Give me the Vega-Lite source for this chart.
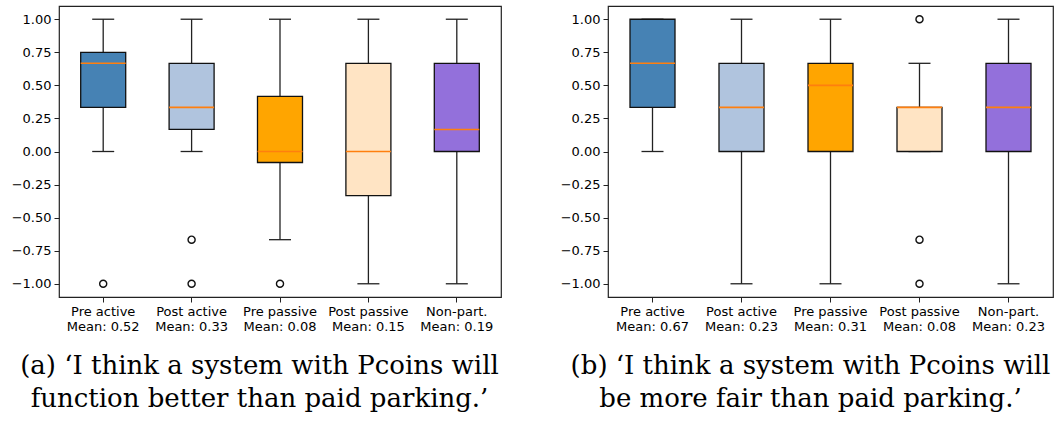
{
  "$schema": "https://vega.github.io/schema/vega-lite/v6.json",
  "padding": {"left": 10, "top": 5, "right": 0, "bottom": 0},
  "autosize": {"type": "pad"},
  "background": "white",
  "config": {
    "view": {"stroke": "#222", "strokeWidth": 1.2},
    "axis": {"labelFont": "DejaVu Sans", "labelFontSize": 13, "labelColor": "#000", "tickColor": "#222", "tickSize": 5, "tickWidth": 1, "domain": false, "grid": false, "labelOverlap": false},
    "concat": {"spacing": 57}
  },
  "datasets": {
    "stats_a": [
      {"group": "Pre active", "label": "Pre active|Mean: 0.52", "lower": 0, "q1": 0.3333, "median": 0.6667, "q3": 0.75, "upper": 1},
      {"group": "Post active", "label": "Post active|Mean: 0.33", "lower": 0, "q1": 0.1667, "median": 0.3333, "q3": 0.6667, "upper": 1},
      {"group": "Pre passive", "label": "Pre passive|Mean: 0.08", "lower": -0.6667, "q1": -0.0833, "median": 0, "q3": 0.4167, "upper": 1},
      {"group": "Post passive", "label": "Post passive|Mean: 0.15", "lower": -1, "q1": -0.3333, "median": 0, "q3": 0.6667, "upper": 1},
      {"group": "Non-part.", "label": "Non-part.|Mean: 0.19", "lower": -1, "q1": 0, "median": 0.1667, "q3": 0.6667, "upper": 1}
    ],
    "out_a": [
      {"label": "Pre active|Mean: 0.52", "value": -1},
      {"label": "Post active|Mean: 0.33", "value": -0.6667},
      {"label": "Post active|Mean: 0.33", "value": -1},
      {"label": "Pre passive|Mean: 0.08", "value": -1}
    ],
    "stats_b": [
      {"group": "Pre active", "label": "Pre active|Mean: 0.67", "lower": 0, "q1": 0.3333, "median": 0.6667, "q3": 1, "upper": 1},
      {"group": "Post active", "label": "Post active|Mean: 0.23", "lower": -1, "q1": 0, "median": 0.3333, "q3": 0.6667, "upper": 1},
      {"group": "Pre passive", "label": "Pre passive|Mean: 0.31", "lower": -1, "q1": 0, "median": 0.5, "q3": 0.6667, "upper": 1},
      {"group": "Post passive", "label": "Post passive|Mean: 0.08", "lower": 0, "q1": 0, "median": 0.3333, "q3": 0.3333, "upper": 0.6667},
      {"group": "Non-part.", "label": "Non-part.|Mean: 0.23", "lower": -1, "q1": 0, "median": 0.3333, "q3": 0.6667, "upper": 1}
    ],
    "out_b": [
      {"label": "Post passive|Mean: 0.08", "value": 1},
      {"label": "Post passive|Mean: 0.08", "value": -0.6667},
      {"label": "Post passive|Mean: 0.08", "value": -1}
    ]
  },
  "hconcat": [
    {
      "width": 442,
      "height": 291,
      "encoding": {
        "x": {"field": "label", "type": "nominal", "sort": null,
          "scale": {"paddingInner": 0, "paddingOuter": 0},
          "axis": {"labelAngle": 0, "labelExpr": "split(datum.value, '|')", "labelLineHeight": 15, "labelPadding": 3,
            "title": ["(a) \u2018I think a system with Pcoins will", "function better than paid parking.\u2019"],
            "titleFont": "DejaVu Serif", "titleFontSize": 26, "titleFontWeight": "normal", "titleColor": "#000",
            "titleLineHeight": 33, "titleX": 200, "titleY": 55, "titleBaseline": "top", "titleAlign": "center", "titleAnchor": null}}
      },
      "layer": [
        {"data": {"name": "stats_a"}, "mark": {"type": "rule", "color": "#222", "strokeWidth": 1.3},
          "encoding": {"y": {"field": "lower", "type": "quantitative", "scale": {"domain": [-1.1, 1.1], "nice": false, "zero": false},
            "axis": {"values": [-1, -0.75, -0.5, -0.25, 0, 0.25, 0.5, 0.75, 1], "format": ".2f", "title": null, "labelPadding": 3, "labelOverlap": false}},
            "y2": {"field": "q1"}}},
        {"data": {"name": "stats_a"}, "mark": {"type": "rule", "color": "#222", "strokeWidth": 1.3},
          "encoding": {"y": {"field": "q3", "type": "quantitative", "axis": {"values": [-1, -0.75, -0.5, -0.25, 0, 0.25, 0.5, 0.75, 1], "format": ".2f", "title": null, "labelPadding": 3, "labelOverlap": false}}, "y2": {"field": "upper"}}},
        {"data": {"name": "stats_a"}, "mark": {"type": "tick", "color": "#222", "size": 22, "thickness": 1.3, "opacity": 1},
          "encoding": {"y": {"field": "lower", "type": "quantitative", "axis": {"values": [-1, -0.75, -0.5, -0.25, 0, 0.25, 0.5, 0.75, 1], "format": ".2f", "title": null, "labelPadding": 3, "labelOverlap": false}}}},
        {"data": {"name": "stats_a"}, "mark": {"type": "tick", "color": "#222", "size": 22, "thickness": 1.3, "opacity": 1},
          "encoding": {"y": {"field": "upper", "type": "quantitative", "axis": {"values": [-1, -0.75, -0.5, -0.25, 0, 0.25, 0.5, 0.75, 1], "format": ".2f", "title": null, "labelPadding": 3, "labelOverlap": false}}}},
        {"data": {"name": "stats_a"}, "mark": {"type": "bar", "size": 45, "stroke": "#111", "strokeWidth": 1.3, "opacity": 1},
          "encoding": {"y": {"field": "q1", "type": "quantitative", "axis": {"values": [-1, -0.75, -0.5, -0.25, 0, 0.25, 0.5, 0.75, 1], "format": ".2f", "title": null, "labelPadding": 3, "labelOverlap": false}}, "y2": {"field": "q3"},
            "color": {"field": "group", "type": "nominal", "legend": null,
              "scale": {"domain": ["Pre active", "Post active", "Pre passive", "Post passive", "Non-part."], "range": ["#4682b4", "#b0c4de", "#ffa500", "#ffe4c4", "#9370db"]}}}},
        {"data": {"name": "stats_a"}, "mark": {"type": "tick", "color": "#ff7f0e", "size": 45, "thickness": 1.6, "opacity": 1},
          "encoding": {"y": {"field": "median", "type": "quantitative", "axis": {"values": [-1, -0.75, -0.5, -0.25, 0, 0.25, 0.5, 0.75, 1], "format": ".2f", "title": null, "labelPadding": 3, "labelOverlap": false}}}},
        {"data": {"name": "out_a"}, "mark": {"type": "point", "shape": "circle", "filled": false, "stroke": "#111", "strokeWidth": 1.4, "size": 50, "opacity": 1},
          "encoding": {"y": {"field": "value", "type": "quantitative", "axis": {"values": [-1, -0.75, -0.5, -0.25, 0, 0.25, 0.5, 0.75, 1], "format": ".2f", "title": null, "labelPadding": 3, "labelOverlap": false}}}}
      ]
    },
    {
      "width": 445,
      "height": 291,
      "encoding": {
        "x": {"field": "label", "type": "nominal", "sort": null,
          "scale": {"paddingInner": 0, "paddingOuter": 0},
          "axis": {"labelAngle": 0, "labelExpr": "split(datum.value, '|')", "labelLineHeight": 15, "labelPadding": 3,
            "title": ["(b) \u2018I think a system with Pcoins will", "be more fair than paid parking.\u2019"],
            "titleFont": "DejaVu Serif", "titleFontSize": 26, "titleFontWeight": "normal", "titleColor": "#000",
            "titleLineHeight": 33, "titleX": 202, "titleY": 55, "titleBaseline": "top", "titleAlign": "center", "titleAnchor": null}}
      },
      "layer": [
        {"data": {"name": "stats_b"}, "mark": {"type": "rule", "color": "#222", "strokeWidth": 1.3},
          "encoding": {"y": {"field": "lower", "type": "quantitative", "scale": {"domain": [-1.1, 1.1], "nice": false, "zero": false},
            "axis": {"values": [-1, -0.75, -0.5, -0.25, 0, 0.25, 0.5, 0.75, 1], "format": ".2f", "title": null, "labelPadding": 3, "labelOverlap": false}},
            "y2": {"field": "q1"}}},
        {"data": {"name": "stats_b"}, "mark": {"type": "rule", "color": "#222", "strokeWidth": 1.3},
          "encoding": {"y": {"field": "q3", "type": "quantitative", "axis": {"values": [-1, -0.75, -0.5, -0.25, 0, 0.25, 0.5, 0.75, 1], "format": ".2f", "title": null, "labelPadding": 3, "labelOverlap": false}}, "y2": {"field": "upper"}}},
        {"data": {"name": "stats_b"}, "mark": {"type": "tick", "color": "#222", "size": 22, "thickness": 1.3, "opacity": 1},
          "encoding": {"y": {"field": "lower", "type": "quantitative", "axis": {"values": [-1, -0.75, -0.5, -0.25, 0, 0.25, 0.5, 0.75, 1], "format": ".2f", "title": null, "labelPadding": 3, "labelOverlap": false}}}},
        {"data": {"name": "stats_b"}, "mark": {"type": "tick", "color": "#222", "size": 22, "thickness": 1.3, "opacity": 1},
          "encoding": {"y": {"field": "upper", "type": "quantitative", "axis": {"values": [-1, -0.75, -0.5, -0.25, 0, 0.25, 0.5, 0.75, 1], "format": ".2f", "title": null, "labelPadding": 3, "labelOverlap": false}}}},
        {"data": {"name": "stats_b"}, "mark": {"type": "bar", "size": 45, "stroke": "#111", "strokeWidth": 1.3, "opacity": 1},
          "encoding": {"y": {"field": "q1", "type": "quantitative", "axis": {"values": [-1, -0.75, -0.5, -0.25, 0, 0.25, 0.5, 0.75, 1], "format": ".2f", "title": null, "labelPadding": 3, "labelOverlap": false}}, "y2": {"field": "q3"},
            "color": {"field": "group", "type": "nominal", "legend": null,
              "scale": {"domain": ["Pre active", "Post active", "Pre passive", "Post passive", "Non-part."], "range": ["#4682b4", "#b0c4de", "#ffa500", "#ffe4c4", "#9370db"]}}}},
        {"data": {"name": "stats_b"}, "mark": {"type": "tick", "color": "#ff7f0e", "size": 45, "thickness": 1.6, "opacity": 1},
          "encoding": {"y": {"field": "median", "type": "quantitative", "axis": {"values": [-1, -0.75, -0.5, -0.25, 0, 0.25, 0.5, 0.75, 1], "format": ".2f", "title": null, "labelPadding": 3, "labelOverlap": false}}}},
        {"data": {"name": "out_b"}, "mark": {"type": "point", "shape": "circle", "filled": false, "stroke": "#111", "strokeWidth": 1.4, "size": 50, "opacity": 1},
          "encoding": {"y": {"field": "value", "type": "quantitative", "axis": {"values": [-1, -0.75, -0.5, -0.25, 0, 0.25, 0.5, 0.75, 1], "format": ".2f", "title": null, "labelPadding": 3, "labelOverlap": false}}}}
      ]
    }
  ]
}
